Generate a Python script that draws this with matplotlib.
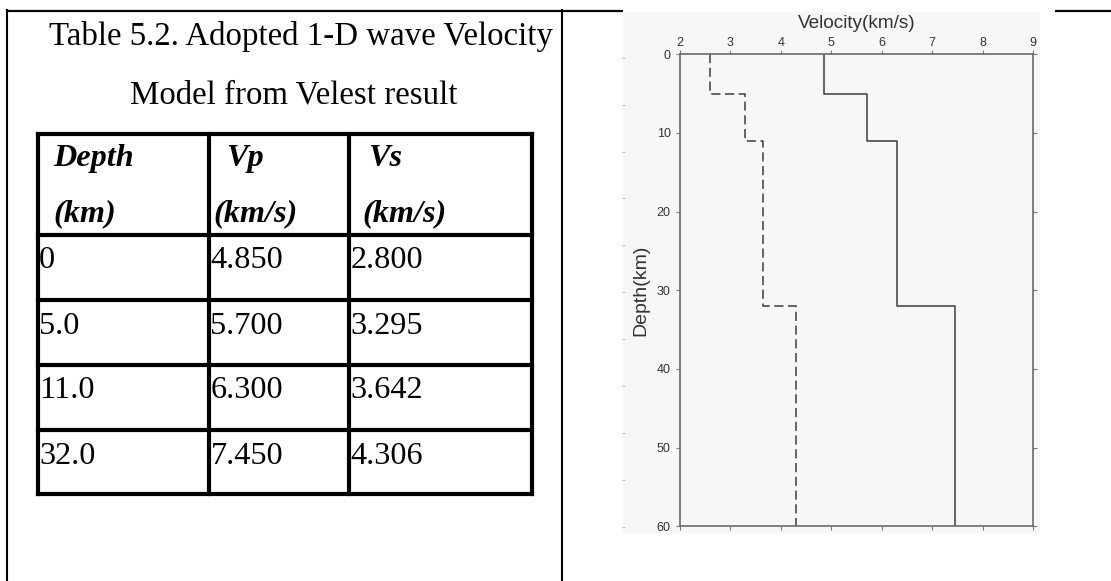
import matplotlib.pyplot as plt
import numpy as np
from matplotlib.patches import Rectangle

# --- table values as printed in the document ---
caption = ["Table 5.2. Adopted 1-D wave Velocity", "Model from Velest result"]
headers = [("Depth", "(km)"), ("Vp", "(km/s)"), ("Vs", "(km/s)")]
depth_txt = ["0", "5.0", "11.0", "32.0"]
vp_txt = ["4.850", "5.700", "6.300", "7.450"]
vs_txt = ["2.800", "3.295", "3.642", "4.306"]

# --- velocity profile as drawn in the figure ---
layer_top = [0, 5, 11, 32]
model_bottom = 60
vp_plot = [4.85, 5.70, 6.30, 7.45]
vs_plot = [2.60, 3.295, 3.642, 4.306]
vel_ticks = [2, 3, 4, 5, 6, 7, 8, 9]
depth_ticks = [0, 10, 20, 30, 40, 50, 60]

plt.rcParams['font.family'] = ['Liberation Sans', 'DejaVu Sans']

W, H = 1111, 581
fig = plt.figure(figsize=(W / 100, H / 100), dpi=100)

# page layer in pixel units (document table around the two cells)
page = fig.add_axes([0, 0, 1, 1])
page.set_xlim(0, W)
page.set_ylim(H, 0)
page.axis('off')

# light dotted background of the pasted figure
page.add_patch(Rectangle((623, 12), 417, 521, color='#f7f7f7', lw=0, zorder=0))

# outer document cell borders
page.plot([7, 623], [11, 11], color='k', lw=1.6, solid_capstyle='butt')
page.plot([1055, W], [11, 11], color='k', lw=1.6, solid_capstyle='butt')
page.plot([7, 7], [10, H], color='k', lw=1.5)
page.plot([562, 562], [10, H], color='k', lw=1.5)

serif = 'Liberation Serif'
fs = 23.2
page.text(301, 44.5, caption[0], ha='center', va='baseline', family=serif, fontsize=23.7)
page.text(294, 103.5, caption[1], ha='center', va='baseline', family=serif, fontsize=23.7)

# inner table grid
col_x = [37.5, 209, 349, 532]
row_y = [134, 235, 300, 365, 430, 494]
hl = page.hlines(row_y, col_x[0], col_x[-1], color='k', lw=3)
vl = page.vlines(col_x, row_y[0], row_y[-1], color='k', lw=3)
hl.set_capstyle('projecting')
vl.set_capstyle('projecting')

head_x1 = [53.5, 226, 368]
head_x2 = [53.5, 213, 362]
for (h1, h2), x1, x2 in zip(headers, head_x1, head_x2):
    page.text(x1, 166, h1, va='baseline', family=serif, fontsize=fs,
              fontweight='bold', fontstyle='italic')
    page.text(x2, 221, h2, va='baseline', family=serif, fontsize=fs,
              fontweight='bold', fontstyle='italic')

for r, row in enumerate(zip(depth_txt, vp_txt, vs_txt)):
    for c, txt in enumerate(row):
        page.text(col_x[c] + 1.5, row_y[r + 1] + 33.5, txt, va='baseline',
                  family=serif, fontsize=fs)

# faint stray ticks at the left edge of the pasted figure
ghost = fig.add_axes([625 / W, 1 - 527 / H, 1e-4, (527 - 57.7) / H])
ghost.set_ylim(10, 0)
ghost.set_yticks(range(11))
ghost.set_xticks([])
ghost.patch.set_alpha(0)
for s in ghost.spines.values():
    s.set_visible(False)
ghost.tick_params(axis='y', length=2, width=0.8, color='#bdbdbd', labelleft=False)

# velocity profile
ax = fig.add_axes([680 / W, 1 - 526.3 / H, 353 / W, (526.3 - 54.3) / H])
ax.patch.set_alpha(0)

edges = layer_top + [model_bottom]
depth_steps = np.repeat(edges, 2)[1:-1]
ax.plot(np.repeat(vp_plot, 2), depth_steps, color='#3c3c3c', lw=1.1)
ax.plot(np.repeat(vs_plot, 2), depth_steps, color='#3c3c3c', lw=1.1, dashes=(6, 3))

ax.set_xlim(vel_ticks[0], vel_ticks[-1])
ax.set_ylim(depth_ticks[-1], depth_ticks[0])
ax.set_xticks(vel_ticks)
ax.set_yticks(depth_ticks)
ax.xaxis.tick_top()
ax.xaxis.set_label_position('top')
ax.tick_params(axis='both', direction='out', length=3.2, width=0.8, color='#7a7a7a',
               labelsize=9, labelcolor='#333333', top=True, bottom=True,
               left=True, right=True, labelbottom=False, labelright=False)
ax.tick_params(axis='x', pad=0.4)
ax.tick_params(axis='y', pad=3.5)
for s in ax.spines.values():
    s.set_color('#6a6a6a')
    s.set_linewidth(1.2)

ax.set_xlabel('Velocity(km/s)', fontsize=13.7, color='#333333', labelpad=7)
ax.set_ylabel('Depth(km)', fontsize=14, color='#333333', labelpad=5)

fig.savefig('out.png', dpi=100)
